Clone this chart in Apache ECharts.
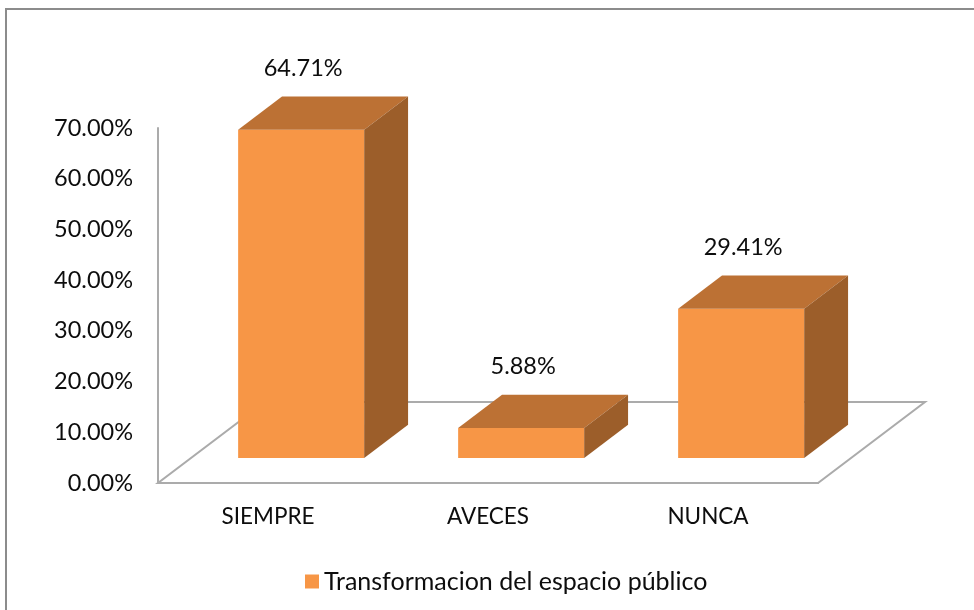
<!DOCTYPE html>
<html>
<head>
<meta charset="utf-8">
<script src="https://cdn.jsdelivr.net/npm/echarts@6/dist/echarts.min.js"></script>
<style>html,body{margin:0;padding:0;background:#fff}#c{width:974px;height:610px}</style>
</head>
<body>
<div id="c"></div>
<script>
var categories = ['SIEMPRE', 'AVECES', 'NUNCA'];
var values = [64.71, 5.88, 29.41];
var seriesName = 'Transformacion del espacio público';
var yTicks = [0, 10, 20, 30, 40, 50, 60, 70];

var FONT = 'Lato';
var DEPTH = [107, -81];      // floor depth vector in px
var FRONT = 0.31, BACK = 0.72; // bar front/back position within depth
var BARW = 0.573;            // bar width relative to band

var chart = echarts.init(document.getElementById('c'));

function floorItem(params, api) {
  var cs = params.coordSys;
  var x0 = cs.x, x1 = cs.x + cs.width, y0 = cs.y + cs.height;
  var pts = [[x0, y0], [x1, y0], [x1 + DEPTH[0], y0 + DEPTH[1]], [x0 + DEPTH[0], y0 + DEPTH[1]]];
  return {
    type: 'polygon',
    shape: { points: pts },
    style: { fill: '#ffffff', stroke: '#ABABAB', lineWidth: 2 }
  };
}

function barItem(params, api) {
  var i = api.value(0), v = api.value(1);
  var base = api.coord([i, 0]);
  var top = api.coord([i, v]);
  var bw = api.size([1, 0])[0] * BARW;
  var fx = FRONT * DEPTH[0], fy = FRONT * DEPTH[1];
  var dx = (BACK - FRONT) * DEPTH[0], dy = (BACK - FRONT) * DEPTH[1];
  var l = base[0] + fx - bw / 2, r = base[0] + fx + bw / 2;
  var b = base[1] + fy, t = top[1] + fy;
  return {
    type: 'group',
    children: [
      { type: 'polygon', shape: { points: [[l, b], [r, b], [r, t], [l, t]] }, style: { fill: '#F79646' } },
      { type: 'polygon', shape: { points: [[l, t], [r, t], [r + dx, t + dy], [l + dx, t + dy]] }, style: { fill: '#BC7134' } },
      { type: 'polygon', shape: { points: [[r, b], [r + dx, b + dy], [r + dx, t + dy], [r, t]] }, style: { fill: '#9C5E2A' } },
      { type: 'text', x: (l + r) / 2 + 2, y: t + dy - 28,
        style: { text: v.toFixed(2) + '%', fill: '#0d0d0d', font: '23.5px ' + FONT, align: 'center', verticalAlign: 'middle' } }
    ]
  };
}

chart.setOption({
  animation: false,
  backgroundColor: '#ffffff',
  graphic: [{
    type: 'rect', shape: { x: 6, y: 9, width: 1100, height: 700 },
    style: { fill: 'none', stroke: '#8C8C8C', lineWidth: 2 }, silent: true, z: -10
  }],
  grid: { left: 158, top: 128, width: 660, height: 355 },
  legend: {
    data: [seriesName],
    left: 300, top: 564,
    itemWidth: 14, itemHeight: 14, itemGap: 8,
    icon: 'rect',
    textStyle: { fontFamily: FONT, fontSize: 25, color: '#0d0d0d' }
  },
  xAxis: {
    type: 'category',
    data: categories,
    axisLine: { show: true, lineStyle: { color: '#ABABAB', width: 2 } },
    axisTick: { show: false },
    axisLabel: { margin: 22, fontFamily: FONT, fontSize: 22.5, color: '#0d0d0d' },
    splitLine: { show: false },
    z: 5
  },
  yAxis: {
    type: 'value',
    min: yTicks[0], max: yTicks[yTicks.length - 1], interval: 10,
    axisLine: { show: true, lineStyle: { color: '#ABABAB', width: 2 } },
    axisTick: { show: false },
    splitLine: { show: false },
    axisLabel: { margin: 25, fontFamily: FONT, fontSize: 23.5, color: '#0d0d0d',
      formatter: function (v) { return v.toFixed(2) + '%'; } }
  },
  series: [
    { type: 'custom', name: 'floor', renderItem: floorItem, data: [[0, 0]], silent: true, z: 1 },
    { type: 'custom', name: seriesName, itemStyle: { color: '#F79646' },
      renderItem: barItem, encode: { x: 0, y: 1 },
      data: categories.map(function (c, i) { return [i, values[i]]; }), z: 3 }
  ]
});
</script>
</body>
</html>
